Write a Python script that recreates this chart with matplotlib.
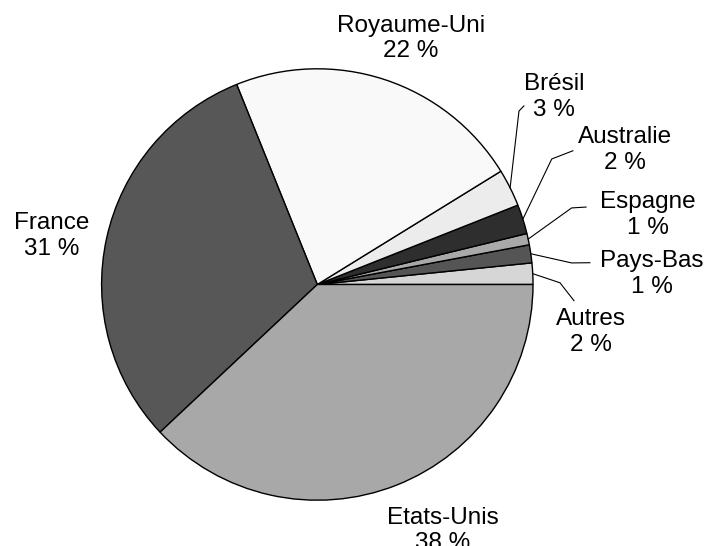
import numpy as np
import matplotlib
matplotlib.use("Agg")
import matplotlib.pyplot as plt

plt.rcParams['font.family'] = ['Liberation Sans', 'DejaVu Sans']

# parts (%), counter-clockwise from 3 o'clock
pays = ["Autres", "Pays-Bas", "Espagne", "Australie", "Brésil",
        "Royaume-Uni", "France", "Etats-Unis"]
parts = [1.6, 1.35, 0.85, 2.2, 2.8, 22.3, 30.9, 38.0]
labels_pct = ["2 %", "1 %", "1 %", "2 %", "3 %", "22 %", "31 %", "38 %"]
colors = ["#d6d6d6", "#555555", "#a9a9a9", "#2e2e2e", "#ececec",
          "#f9f9f9", "#575757", "#a8a8a8"]

# label positions (pie radius = 1)
label_pos = [(1.269, -0.220), (1.550, 0.049), (1.533, 0.322), (1.427, 0.624),
             (1.097, 0.869), (0.434, 1.140), (-1.232, 0.226), (0.581, -1.140)]
# leader lines for the small slices: elbow point, end point
leaders = {
    "Autres": [(1.125, 0.008), (1.190, -0.075)],
    "Pays-Bas": [(1.179, 0.100), (1.264, 0.101)],
    "Espagne": [(1.179, 0.355), (1.246, 0.359)],
    "Australie": [(1.087, 0.582), (1.185, 0.620)],
    "Brésil": [(0.935, 0.804), (0.958, 0.828)],
}

fig = plt.figure(figsize=(7.10, 5.46), dpi=100)
ax = fig.add_axes([0, 0, 1, 1])
ax.axis("off")

wedges, _ = ax.pie(parts, colors=colors, startangle=0, counterclock=True,
                   radius=1, center=(0, 0),
                   wedgeprops=dict(edgecolor="black", linewidth=1.0))

for w, name, pct, (tx, ty) in zip(wedges, pays, labels_pct, label_pos):
    ax.text(tx, ty, f"{name}\n{pct}", ha="center", va="center",
            fontsize=17.5, linespacing=1.22)
    if name in leaders:
        mid = np.deg2rad((w.theta1 + w.theta2) / 2)
        pts = [(np.cos(mid), np.sin(mid))] + leaders[name]
        xs, ys = zip(*pts)
        ax.plot(xs, ys, color="black", lw=0.8)

# pixel scale: centre (317.3, 284.5), radius 215.7 px
s = 215.7
ax.set_xlim(-317.3 / s, (710 - 317.3) / s)
ax.set_ylim(-(546 - 284.5) / s, 284.5 / s)
ax.set_aspect("auto")

fig.savefig("out.png", dpi=100)
